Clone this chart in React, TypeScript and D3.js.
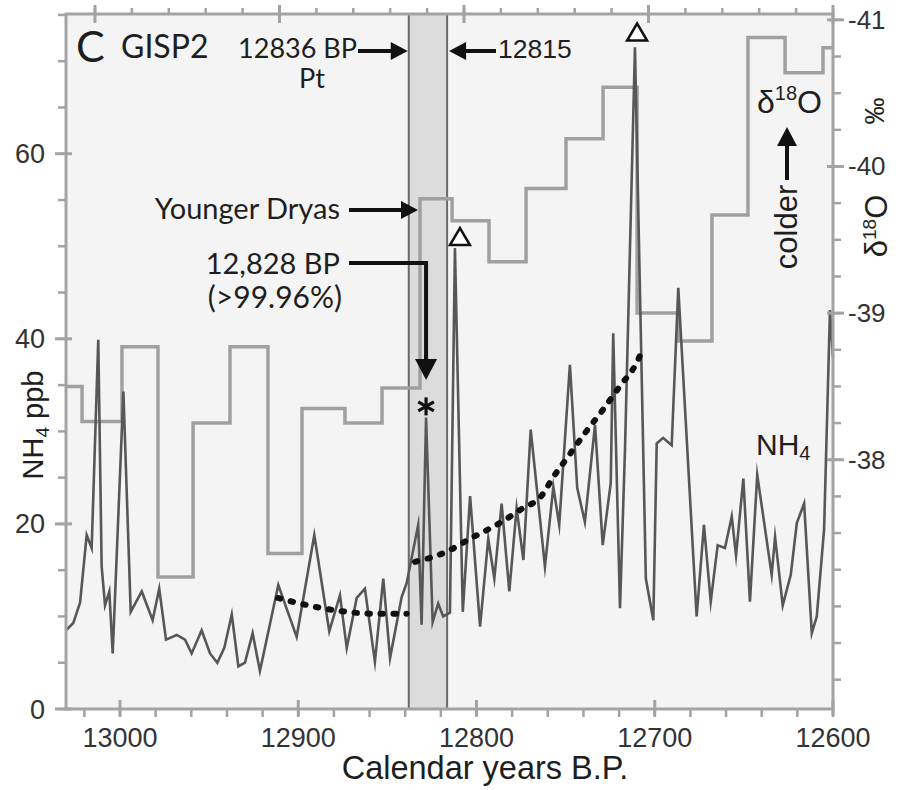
import React from 'react';
import * as d3 from 'd3';

// ---------------- DATA ----------------
const nh4Years = [
  13030.3, 13026.2, 13022.4, 13018.7, 13015.9, 13012.2, 13010.3, 13008.4, 13006.0, 13004.1,
  12998.1, 12994.0, 12987.8, 12981.7, 12978.0, 12974.2, 12968.2, 12963.5, 12959.8, 12954.2,
  12949.5, 12945.4, 12941.5, 12937.3, 12933.6, 12929.9, 12925.6, 12921.5, 12911.2, 12900.9,
  12891.0, 12882.6, 12876.6, 12872.8, 12867.2, 12862.6, 12857.0, 12852.3, 12848.5, 12842.0,
  12839.2, 12832.7, 12830.8, 12828.3, 12824.6, 12821.5, 12818.7, 12814.9, 12812.1, 12807.7,
  12803.6, 12798.0, 12793.4, 12790.0, 12785.9, 12781.6, 12777.5, 12773.7, 12769.6, 12761.6,
  12756.9, 12753.6, 12747.6, 12743.5, 12739.2, 12733.5, 12729.2, 12724.7, 12723.3, 12719.5,
  12716.7, 12711.1, 12705.0, 12700.8, 12698.9, 12695.3, 12690.5, 12686.8, 12676.5, 12672.4,
  12668.6, 12664.7, 12660.6, 12656.8, 12654.4, 12650.3, 12646.6, 12642.5, 12634.4, 12632.5,
  12628.2, 12623.7, 12620.3, 12616.2, 12611.9, 12609.1, 12605.0, 12601.7, 12600.0,
];
const nh4Values = [
  8.5, 9.3, 11.5, 18.8, 17.4, 39.9, 15.4, 11.2, 12.7, 6.0,
  34.3, 10.5, 12.7, 9.6, 13.0, 7.5, 8.0, 7.5, 6.0, 8.5,
  6.0, 5.0, 6.6, 10.2, 4.6, 5.0, 8.2, 4.1, 13.4, 7.8,
  18.8, 8.4, 12.3, 6.6, 12.0, 13.0, 5.1, 14.1, 5.5, 12.1,
  13.6, 19.9, 9.1, 31.5, 9.4, 11.4, 10.0, 10.4, 49.8, 10.5,
  23.0, 8.9, 18.4, 14.1, 22.2, 12.7, 21.7, 16.1, 30.2, 15.4,
  24.0, 19.9, 37.2, 23.9, 20.2, 30.7, 17.7, 24.4, 40.6, 10.9,
  28.0, 71.5, 14.1, 9.6, 28.7, 29.3, 28.5, 45.5, 10.0, 19.9,
  11.6, 17.7, 17.4, 20.8, 16.6, 24.9, 11.6, 25.3, 14.5, 18.6,
  11.2, 14.5, 20.1, 22.2, 8.2, 10.0, 19.4, 43.1, 38.0,
];

// δ18O step series: each step starts at the given year (older -> younger)
const d18oStepStarts = [
  13030.3, 13021.3, 12998.9, 12978.7, 12959.0, 12938.3, 12917.0, 12897.9, 12873.8, 12853.0,
  12831.7, 12813.7, 12793.0, 12772.2, 12749.8, 12729.0, 12709.9, 12686.9, 12667.9, 12647.7,
  12626.9, 12605.6,
];
const d18oStepValues = [
  -38.5, -38.26, -38.77, -37.2, -38.25, -38.77, -37.36, -38.35, -38.25, -38.49,
  -39.78, -39.63, -39.35, -39.85, -40.19, -40.54, -39.0, -38.81, -39.67, -40.88,
  -40.64, -40.81,
];
const d18oEndYear = 12600;

// dotted trend curves
const fit1Years = [12911.4, 12894.5, 12872.8, 12858.1, 12839.2];
const fit1Values = [12.0, 11.2, 10.5, 10.3, 10.3];
const fit2Years = [12834.5, 12816.7, 12803.6, 12788.7, 12775.6, 12762.5, 12757.8, 12748.5, 12739.2, 12729.2, 12719.5, 12710.2, 12706.5];
const fit2Values = [15.9, 17.0, 18.4, 19.9, 21.5, 23.3, 24.8, 27.3, 29.8, 32.3, 34.9, 37.4, 39.0];

// highlighted band (Pt anomaly)
const bandYears = [12838, 12816.5];
// open triangle markers
const triangleYears = [12809.3, 12709.9];
const triangleValues = [51.0, 73.1];
// asterisk marker
const asteriskYear = 12828.3;
const asteriskValue = 32.7;

// axes
const xMajorTicks = [13000, 12900, 12800, 12700, 12600];
const xMinorTicks = d3.range(13020, 12599, -20);
const yLeftMajorTicks = [0, 20, 40, 60];
const yLeftMinorTicks = d3.range(0, 76, 5);
const yRightMajorTicks = [-41, -40, -39, -38];
const yRightMinorTicks = d3.range(0, 19).map((i) => -41 + i * 0.25);
const topMajorTicks = [0, 1, 2, 3, 4];
const topMinorTicks = d3.range(0, 21).map((i) => i * 0.2);

// ---------------- LAYOUT ----------------
const W = 898;
const H = 790;
const L = 66, R = 833, T = 14, B = 709;

const AX = '#a3a3a3';
const TXT = '#1e1e1e';
const SANS = '"Liberation Sans", Arial, sans-serif';
const CAL = 'Lato, "Open Sans", sans-serif';

function Arrow({ x1, y1, x2, y2, head = 17, half = 9, w = 4 }: any) {
  const ang = Math.atan2(y2 - y1, x2 - x1);
  const bx = x2 - head * Math.cos(ang);
  const by = y2 - head * Math.sin(ang);
  const px = -Math.sin(ang) * half;
  const py = Math.cos(ang) * half;
  return (
    <g>
      <line x1={x1} y1={y1} x2={bx + Math.cos(ang) * 2} y2={by + Math.sin(ang) * 2} stroke="#111" strokeWidth={w} />
      <polygon points={`${x2},${y2} ${bx + px},${by + py} ${bx - px},${by - py}`} fill="#111" />
    </g>
  );
}

export default function App() {
  const x = d3.scaleLinear().domain([13030.3, 12600]).range([L, R]);
  const yN = d3.scaleLinear().domain([0, 75.1]).range([B, T]);
  const yO = d3.scaleLinear().domain([-41.04, -36.3]).range([T, B]);
  const xTop = d3.scaleLinear().domain([-0.157, 4]).range([L, R]);

  const nh4 = nh4Years.map((yr, i) => [yr, nh4Values[i]] as [number, number]);
  const nh4Line = d3.line<[number, number]>().x((d) => x(d[0])).y((d) => yN(d[1]))(nh4) || '';

  const steps = d18oStepStarts.map((yr, i) => [yr, d18oStepValues[i]] as [number, number]);
  steps.push([d18oEndYear, d18oStepValues[d18oStepValues.length - 1]]);
  const stepLine = d3.line<[number, number]>().x((d) => x(d[0])).y((d) => yO(d[1])).curve(d3.curveStepAfter)(steps) || '';

  const fitGen = d3.line<[number, number]>().x((d) => x(d[0])).y((d) => yN(d[1])).curve(d3.curveMonotoneX);
  const fit1 = fitGen(fit1Years.map((yr, i) => [yr, fit1Values[i]])) || '';
  const fit2 = fitGen(fit2Years.map((yr, i) => [yr, fit2Values[i]])) || '';

  const bx0 = x(bandYears[0]);
  const bx1 = x(bandYears[1]);

  const ax = x(asteriskYear);
  const ay = yN(asteriskValue);

  return (
    <svg width={W} height={H} style={{ position: 'absolute', left: 0, top: 0, background: '#fff' }}>
      <rect x={L} y={T} width={R - L} height={B - T} fill="#f4f4f4" />
      {/* band */}
      <rect x={bx0} y={T} width={bx1 - bx0} height={B - T} fill="#dcdcdc" />
      <line x1={bx0} x2={bx0} y1={T} y2={B} stroke="#6a6a6a" strokeWidth={2} />
      <line x1={bx1} x2={bx1} y1={T} y2={B} stroke="#6a6a6a" strokeWidth={2} />

      {/* δ18O step */}
      <path d={stepLine} fill="none" stroke="#a0a0a0" strokeWidth={3.5} />
      {/* NH4 */}
      <path d={nh4Line} fill="none" stroke="#575757" strokeWidth={2.6} strokeLinejoin="miter" strokeMiterlimit={10} />
      {/* dotted fits */}
      <path d={fit1} fill="none" stroke="#111" strokeWidth={6} strokeLinecap="round" strokeDasharray="2.5 10.5" />
      <path d={fit2} fill="none" stroke="#111" strokeWidth={6} strokeLinecap="round" strokeDasharray="2.5 10.5" />

      {/* frame */}
      <rect x={L} y={T} width={R - L} height={B - T} fill="none" stroke={AX} strokeWidth={3} />

      {/* bottom ticks */}
      {xMinorTicks.map((t) => (
        <line key={'xm' + t} x1={x(t)} x2={x(t)} y1={B} y2={B + 8} stroke={AX} strokeWidth={2.5} />
      ))}
      {xMajorTicks.map((t) => (
        <g key={'xM' + t}>
          <line x1={x(t)} x2={x(t)} y1={B - 9} y2={B + 7} stroke={AX} strokeWidth={3} />
          <text x={x(t)} y={747} textAnchor="middle" fontFamily={SANS} fontSize={27} fill="#333">{t}</text>
        </g>
      ))}
      {/* top ticks */}
      {topMinorTicks.map((t, i) => (
        <line key={'tm' + i} x1={xTop(t)} x2={xTop(t)} y1={T} y2={T - 6} stroke={AX} strokeWidth={2.5} />
      ))}
      {topMajorTicks.map((t) => (
        <line key={'tM' + t} x1={xTop(t)} x2={xTop(t)} y1={T - 9} y2={T + 9} stroke={AX} strokeWidth={3} />
      ))}
      {/* left ticks */}
      {yLeftMinorTicks.map((t) => (
        <line key={'lm' + t} x1={L - 8} x2={L} y1={yN(t)} y2={yN(t)} stroke={AX} strokeWidth={2.5} />
      ))}
      {yLeftMajorTicks.map((t) => (
        <g key={'lM' + t}>
          <line x1={L - 11} x2={L + 6} y1={yN(t)} y2={yN(t)} stroke={AX} strokeWidth={3} />
          <text x={45} y={yN(t) + 9.5} textAnchor="end" fontFamily={SANS} fontSize={27} fill="#333">{t}</text>
        </g>
      ))}
      {/* right ticks */}
      {yRightMinorTicks.map((t, i) => (
        <line key={'rm' + i} x1={R} x2={R + 8} y1={yO(t)} y2={yO(t)} stroke={AX} strokeWidth={2.5} />
      ))}
      {yRightMajorTicks.map((t) => (
        <g key={'rM' + t}>
          <line x1={R - 6} x2={R + 11} y1={yO(t)} y2={yO(t)} stroke={AX} strokeWidth={3} />
          <text x={848} y={yO(t) + 9} textAnchor="start" fontFamily={SANS} fontSize={26} fill="#333">{t}</text>
        </g>
      ))}

      {/* axis titles */}
      <text x={485} y={779} textAnchor="middle" fontFamily={SANS} fontSize={32.5} fill={TXT}>Calendar years B.P.</text>
      <text transform="translate(43,425) rotate(-90)" textAnchor="middle" fontFamily={SANS} fontSize={29} fill={TXT}>
        NH<tspan fontSize={19} dy={6}>4</tspan><tspan dy={-6}> ppb</tspan>
      </text>
      <text transform="translate(887,226) rotate(-90)" textAnchor="middle" fontFamily={SANS} fontSize={31} fill={TXT}>
        δ<tspan fontSize={19} dy={-11}>18</tspan><tspan dy={11}>O</tspan>
      </text>
      <text transform="translate(884,111) rotate(-90)" textAnchor="middle" fontFamily={SANS} fontSize={27} fill={TXT}>‰</text>

      {/* panel label */}
      <text x={76} y={62} fontFamily={CAL} fontSize={43} fill={TXT}>C</text>
      <text x={121} y={58} fontFamily={CAL} fontSize={32} fill={TXT}>GISP2</text>

      {/* annotations */}
      <text x={357} y={58} textAnchor="end" fontFamily={CAL} fontSize={27} fill={TXT}>12836 BP</text>
      <text x={312} y={88} textAnchor="middle" fontFamily={CAL} fontSize={27} fill={TXT}>Pt</text>
      <Arrow x1={358} y1={51} x2={bx0 - 1} y2={51} />
      <text x={498} y={58} textAnchor="start" fontFamily={SANS} fontSize={26.5} fill={TXT}>12815</text>
      <Arrow x1={496} y1={51} x2={bx1 + 2} y2={51} />

      <text x={340} y={219} textAnchor="end" fontFamily={CAL} fontSize={29} fill={TXT}>Younger Dryas</text>
      <Arrow x1={349} y1={210} x2={x(12831.7) - 2} y2={210} />

      <text x={340} y={274} textAnchor="end" fontFamily={CAL} fontSize={29} fill={TXT}>12,828 BP</text>
      <text x={342} y={308} textAnchor="end" fontFamily={CAL} fontSize={30} fill={TXT}>(&gt;99.96%)</text>
      <polyline points={`349,263 ${ax},263 ${ax},362`} fill="none" stroke="#111" strokeWidth={4} />
      <Arrow x1={ax} y1={355} x2={ax} y2={380} head={21} half={11} />

      {/* asterisk */}
      <g stroke="#111" strokeWidth={3.2} strokeLinecap="butt">
        {[90, 30, -30].map((a) => {
          const r = 9;
          const c = Math.cos((a * Math.PI) / 180) * r;
          const s = Math.sin((a * Math.PI) / 180) * r;
          return <line key={a} x1={ax - c} y1={ay - s} x2={ax + c} y2={ay + s} />;
        })}
      </g>

      {/* triangles */}
      {triangleYears.map((yr, i) => {
        const cx = x(yr);
        const cy = yN(triangleValues[i]);
        return (
          <polygon key={yr} points={`${cx},${cy - 9} ${cx - 10},${cy + 8} ${cx + 10},${cy + 8}`} fill="#fff" stroke="#111" strokeWidth={2.5} strokeLinejoin="miter" />
        );
      })}

      {/* NH4 label */}
      <text x={756} y={455} fontFamily={SANS} fontSize={30} fill={TXT}>
        NH<tspan fontSize={20} dy={5}>4</tspan>
      </text>

      {/* δ18O colder label */}
      <text x={757} y={113} fontFamily={SANS} fontSize={32} fill={TXT}>
        δ<tspan fontSize={20} dy={-13}>18</tspan><tspan dy={13}>O</tspan>
      </text>
      <Arrow x1={787} y1={180} x2={787} y2={127} head={19} half={10} />
      <text transform="translate(797,227) rotate(-90)" textAnchor="middle" fontFamily={SANS} fontSize={31} fill={TXT}>colder</text>
    </svg>
  );
}
